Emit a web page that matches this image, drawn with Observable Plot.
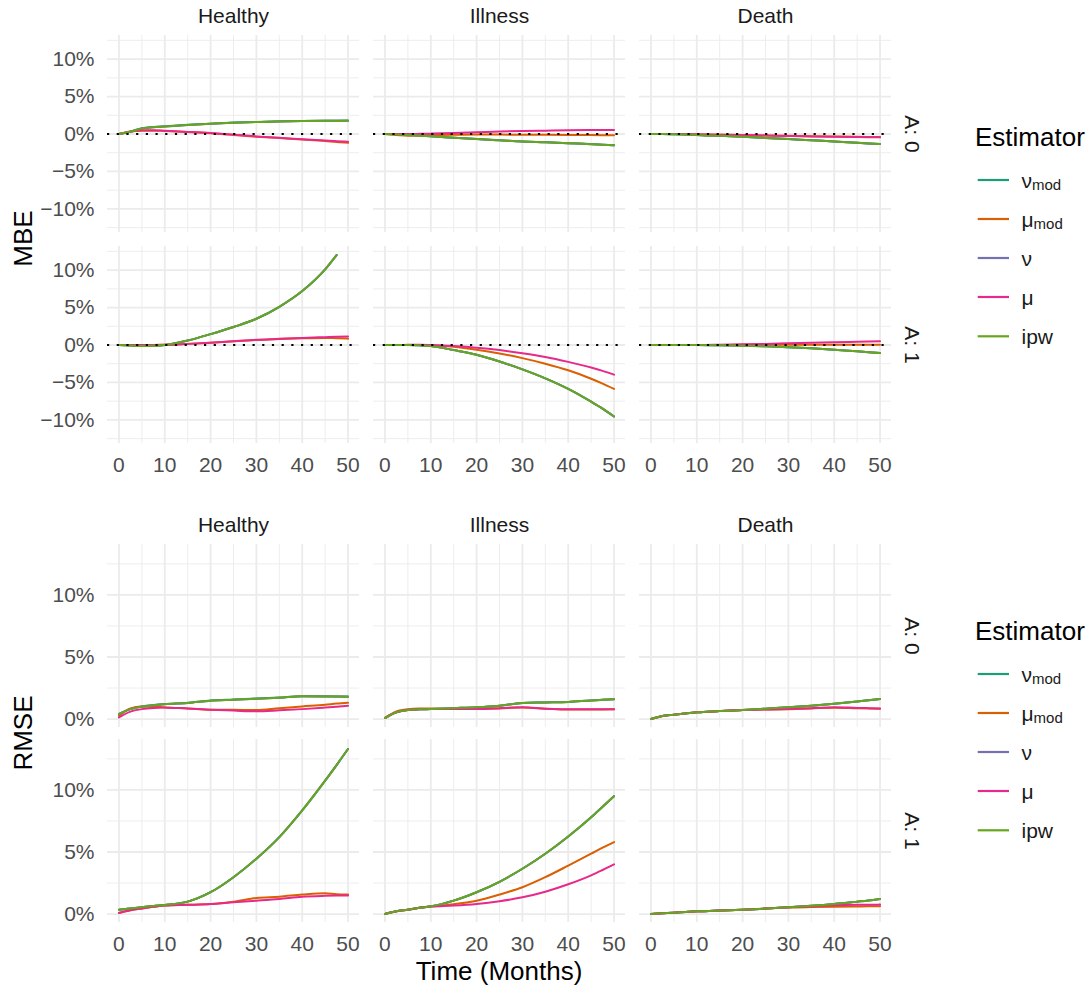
<!DOCTYPE html>
<html><head><meta charset="utf-8">
<script src="https://cdn.jsdelivr.net/npm/d3@7"></script>
<script src="https://cdn.jsdelivr.net/npm/@observablehq/plot@0.6"></script>
<style>
body{margin:0;background:#fff;}
#wrap{position:relative;width:1091px;height:991px;overflow:hidden;background:#fff;font-family:"Liberation Sans",Arial,sans-serif;}
#wrap > svg{position:absolute;left:0;}
</style></head><body><div id="wrap"></div>
<script>
// ---------- data ----------
const time = [0, 2.5, 5, 7.5, 10, 15, 20, 25, 30, 35, 40, 45, 47.5, 50];
const states = ["Healthy", "Illness", "Death"];
const groups = ["A: 0", "A: 1"];
const estimators = ["nu_mod", "mu_mod", "nu", "mu", "ipw"];
const estimatorColors = ["#1B9E77", "#D95F02", "#7570B3", "#E7298A", "#66A61E"];
const legendBase = ["ν", "μ", "ν", "μ", "ipw"];
const legendSub = ["mod", "mod", "", "", ""];
const xTicks = [0, 10, 20, 30, 40, 50];
const xMinor = [5, 15, 25, 35, 45];
const mbeTicks = [-10, -5, 0, 5, 10];
const mbeMinor = [-12.5, -7.5, -2.5, 2.5, 7.5, 12.5];
const rmseTicks = [0, 5, 10];
const rmseMinor = [2.5, 7.5, 12.5];

// MBE (%)
const mbe_Healthy_A0 = {
  nu_mod: [0, 0.32, 0.78, 0.92, 1.02, 1.22, 1.38, 1.52, 1.61, 1.69, 1.74, 1.77, 1.78, 1.79],
  mu_mod: [0, 0.35, 0.45, 0.45, 0.4, 0.26, 0.1, -0.12, -0.36, -0.55, -0.75, -0.95, -1.08, -1.18],
  nu:     [0, 0.3, 0.75, 0.9, 1.0, 1.2, 1.36, 1.5, 1.6, 1.68, 1.73, 1.76, 1.77, 1.78],
  mu:     [0, 0.3, 0.5, 0.5, 0.42, 0.28, 0.12, -0.1, -0.32, -0.5, -0.7, -0.88, -0.96, -1.04],
  ipw:    [0, 0.3, 0.75, 0.9, 1.0, 1.2, 1.36, 1.5, 1.6, 1.68, 1.73, 1.76, 1.77, 1.78]
};
const mbe_Illness_A0 = {
  nu_mod: [0, -0.05, -0.12, -0.21, -0.3, -0.49, -0.67, -0.83, -0.99, -1.1, -1.22, -1.35, -1.42, -1.49],
  mu_mod: [0, -0.12, -0.22, -0.2, -0.15, -0.1, -0.08, -0.08, -0.1, -0.1, -0.12, -0.14, -0.16, -0.18],
  nu:     [0, -0.05, -0.12, -0.22, -0.3, -0.5, -0.68, -0.84, -1.0, -1.1, -1.22, -1.36, -1.42, -1.5],
  mu:     [0, 0, 0, 0.02, 0.05, 0.12, 0.22, 0.33, 0.4, 0.44, 0.5, 0.52, 0.53, 0.54],
  ipw:    [0, -0.05, -0.12, -0.22, -0.3, -0.5, -0.68, -0.84, -1.0, -1.1, -1.22, -1.36, -1.42, -1.5]
};
const mbe_Death_A0 = {
  nu_mod: [0, 0, -0.03, -0.08, -0.14, -0.25, -0.36, -0.52, -0.68, -0.84, -1.0, -1.18, -1.27, -1.35],
  mu_mod: [0, 0, 0, -0.02, -0.04, -0.09, -0.14, -0.19, -0.25, -0.3, -0.34, -0.38, -0.39, -0.4],
  nu:     [0, 0, -0.03, -0.08, -0.14, -0.25, -0.36, -0.52, -0.68, -0.84, -1.0, -1.18, -1.27, -1.35],
  mu:     [0, 0, 0, -0.02, -0.05, -0.1, -0.15, -0.2, -0.27, -0.32, -0.37, -0.41, -0.43, -0.45],
  ipw:    [0, 0, -0.03, -0.08, -0.14, -0.25, -0.36, -0.52, -0.68, -0.84, -1.0, -1.18, -1.27, -1.35]
};
const mbe_Healthy_A1 = {
  nu_mod: [0, -0.08, -0.14, -0.1, 0, 0.6, 1.45, 2.4, 3.5, 5.1, 7.2, 10.1, 12.0, null],
  mu_mod: [0, 0, 0, 0, 0.02, 0.15, 0.3, 0.5, 0.68, 0.8, 0.9, 0.95, 0.9, 0.85],
  nu:     [0, -0.08, -0.14, -0.1, 0, 0.6, 1.45, 2.4, 3.5, 5.1, 7.2, 10.1, 12.0, null],
  mu:     [0, 0, 0, 0, 0.02, 0.15, 0.3, 0.5, 0.7, 0.82, 0.95, 1.05, 1.1, 1.12],
  ipw:    [0, -0.08, -0.14, -0.1, 0, 0.6, 1.45, 2.4, 3.5, 5.1, 7.2, 10.1, 12.0, null]
};
const mbe_Illness_A1 = {
  nu_mod: [0, 0, 0, -0.05, -0.14, -0.68, -1.3, -2.2, -3.25, -4.45, -5.86, -7.57, -8.5, -9.55],
  mu_mod: [0, 0, 0, 0, -0.02, -0.22, -0.62, -1.13, -1.75, -2.5, -3.38, -4.5, -5.15, -5.86],
  nu:     [0, 0, 0, -0.05, -0.14, -0.68, -1.3, -2.2, -3.25, -4.45, -5.86, -7.57, -8.5, -9.55],
  mu:     [0, 0, 0.02, 0.03, 0, -0.14, -0.36, -0.68, -1.1, -1.6, -2.25, -3.0, -3.45, -3.96],
  ipw:    [0, 0, 0, -0.05, -0.14, -0.68, -1.3, -2.2, -3.25, -4.45, -5.86, -7.57, -8.5, -9.55]
};
const mbe_Death_A1 = {
  nu_mod: [0, 0, 0, 0, 0, -0.03, -0.1, -0.18, -0.3, -0.45, -0.63, -0.85, -0.96, -1.08],
  mu_mod: [0, 0, 0, 0, 0, 0.01, 0.02, 0.02, 0.03, 0.03, 0.03, 0.03, 0.03, 0.03],
  nu:     [0, 0, 0, 0, 0, -0.03, -0.1, -0.18, -0.3, -0.45, -0.63, -0.85, -0.96, -1.08],
  mu:     [0, 0, 0, 0, 0, 0.04, 0.1, 0.15, 0.22, 0.29, 0.36, 0.43, 0.47, 0.5],
  ipw:    [0, 0, 0, 0, 0, -0.03, -0.1, -0.18, -0.3, -0.45, -0.63, -0.85, -0.96, -1.08]
};

// RMSE (%)
const rmse_Healthy_A0 = {
  nu_mod: [0.42, 0.82, 1.02, 1.13, 1.21, 1.31, 1.49, 1.57, 1.65, 1.73, 1.84, 1.83, 1.82, 1.81],
  mu_mod: [0.27, 0.85, 1.02, 1.0, 0.94, 0.85, 0.75, 0.74, 0.73, 0.88, 1.02, 1.15, 1.25, 1.32],
  nu:     [0.4, 0.8, 1.0, 1.12, 1.2, 1.3, 1.48, 1.56, 1.64, 1.72, 1.83, 1.82, 1.81, 1.8],
  mu:     [0.13, 0.6, 0.8, 0.9, 0.94, 0.85, 0.75, 0.68, 0.62, 0.7, 0.8, 0.93, 1.0, 1.08],
  ipw:    [0.4, 0.8, 1.0, 1.12, 1.2, 1.3, 1.48, 1.56, 1.64, 1.72, 1.83, 1.82, 1.81, 1.8]
};
const rmse_Illness_A0 = {
  nu_mod: [0.08, 0.55, 0.73, 0.78, 0.81, 0.88, 0.95, 1.08, 1.3, 1.34, 1.38, 1.5, 1.55, 1.6],
  mu_mod: [0.1, 0.62, 0.8, 0.85, 0.85, 0.82, 0.82, 0.86, 0.93, 0.84, 0.76, 0.76, 0.77, 0.78],
  nu:     [0.08, 0.55, 0.73, 0.78, 0.81, 0.88, 0.95, 1.08, 1.3, 1.34, 1.38, 1.5, 1.55, 1.6],
  mu:     [0.08, 0.55, 0.73, 0.78, 0.81, 0.81, 0.81, 0.88, 0.95, 0.84, 0.78, 0.78, 0.78, 0.78],
  ipw:    [0.08, 0.55, 0.73, 0.78, 0.81, 0.88, 0.95, 1.08, 1.3, 1.34, 1.38, 1.5, 1.55, 1.6]
};
const rmse_Death_A0 = {
  nu_mod: [0, 0.25, 0.35, 0.45, 0.54, 0.64, 0.73, 0.84, 0.95, 1.08, 1.24, 1.42, 1.52, 1.62],
  mu_mod: [0, 0.25, 0.35, 0.45, 0.54, 0.64, 0.73, 0.77, 0.8, 0.86, 0.92, 0.88, 0.86, 0.84],
  nu:     [0, 0.25, 0.35, 0.45, 0.54, 0.64, 0.73, 0.84, 0.95, 1.08, 1.24, 1.42, 1.52, 1.62],
  mu:     [0, 0.25, 0.35, 0.45, 0.54, 0.64, 0.73, 0.77, 0.81, 0.88, 0.95, 0.9, 0.88, 0.86],
  ipw:    [0, 0.25, 0.35, 0.45, 0.54, 0.64, 0.73, 0.84, 0.95, 1.08, 1.24, 1.42, 1.52, 1.62]
};
const rmse_Healthy_A1 = {
  nu_mod: [0.35, 0.45, 0.55, 0.65, 0.73, 1.0, 1.76, 2.97, 4.46, 6.2, 8.35, 10.75, 12.0, 13.3],
  mu_mod: [0.08, 0.3, 0.45, 0.58, 0.68, 0.74, 0.81, 1.0, 1.3, 1.4, 1.57, 1.68, 1.6, 1.57],
  nu:     [0.35, 0.45, 0.55, 0.65, 0.73, 1.0, 1.76, 2.97, 4.46, 6.2, 8.35, 10.75, 12.0, 13.3],
  mu:     [0.08, 0.3, 0.45, 0.58, 0.68, 0.74, 0.81, 0.95, 1.08, 1.22, 1.4, 1.47, 1.49, 1.5],
  ipw:    [0.35, 0.45, 0.55, 0.65, 0.73, 1.0, 1.76, 2.97, 4.46, 6.2, 8.35, 10.75, 12.0, 13.3]
};
const rmse_Illness_A1 = {
  nu_mod: [0, 0.22, 0.35, 0.5, 0.62, 1.08, 1.76, 2.6, 3.65, 4.86, 6.25, 7.8, 8.65, 9.5],
  mu_mod: [0, 0.22, 0.35, 0.5, 0.6, 0.8, 1.08, 1.57, 2.16, 2.97, 3.9, 4.86, 5.35, 5.8],
  nu:     [0, 0.22, 0.35, 0.5, 0.62, 1.08, 1.76, 2.6, 3.65, 4.86, 6.25, 7.8, 8.65, 9.5],
  mu:     [0, 0.22, 0.35, 0.5, 0.6, 0.68, 0.81, 1.03, 1.35, 1.8, 2.4, 3.12, 3.55, 4.0],
  ipw:    [0, 0.22, 0.35, 0.5, 0.62, 1.08, 1.76, 2.6, 3.65, 4.86, 6.25, 7.8, 8.65, 9.5]
};
const rmse_Death_A1 = {
  nu_mod: [0, 0.06, 0.11, 0.17, 0.22, 0.29, 0.35, 0.44, 0.54, 0.66, 0.81, 1.0, 1.1, 1.22],
  mu_mod: [0, 0.06, 0.11, 0.17, 0.22, 0.29, 0.35, 0.44, 0.52, 0.56, 0.59, 0.61, 0.62, 0.62],
  nu:     [0, 0.06, 0.11, 0.17, 0.22, 0.29, 0.35, 0.44, 0.54, 0.66, 0.81, 1.0, 1.1, 1.22],
  mu:     [0, 0.06, 0.11, 0.17, 0.22, 0.29, 0.35, 0.44, 0.54, 0.62, 0.7, 0.74, 0.75, 0.76],
  ipw:    [0, 0.06, 0.11, 0.17, 0.22, 0.29, 0.35, 0.44, 0.54, 0.66, 0.81, 1.0, 1.1, 1.22]
};

const mbePanels = [
  ["Healthy", "A: 0", mbe_Healthy_A0], ["Illness", "A: 0", mbe_Illness_A0], ["Death", "A: 0", mbe_Death_A0],
  ["Healthy", "A: 1", mbe_Healthy_A1], ["Illness", "A: 1", mbe_Illness_A1], ["Death", "A: 1", mbe_Death_A1]
];
const rmsePanels = [
  ["Healthy", "A: 0", rmse_Healthy_A0], ["Illness", "A: 0", rmse_Illness_A0], ["Death", "A: 0", rmse_Death_A0],
  ["Healthy", "A: 1", rmse_Healthy_A1], ["Illness", "A: 1", rmse_Illness_A1], ["Death", "A: 1", rmse_Death_A1]
];

// ---------- build ----------
function toRows(panels) {
  const out = [];
  for (const est of estimators) {
    for (const [state, A, obj] of panels) {
      obj[est].forEach((v, i) => out.push({t: time[i], v: v == null ? NaN : v, est, state, A}));
    }
  }
  return out;
}
const pct = d => (d < 0 ? "\u2212" : "") + Math.abs(d) + "%";
const FONT = '"Liberation Sans", Arial, Helvetica, sans-serif';
const GRID = "#EBEBEB";

function facetChart({data, yDomain, yTicks, yMinor, fyPad, height, marginBottom, hline}) {
  return Plot.plot({
    width: 940, height,
    marginLeft: 106.2, marginRight: 48.5, marginTop: 34, marginBottom,
    style: {fontFamily: FONT, fontSize: "21px", color: "#4D4D4D", background: "white", overflow: "visible"},
    x: {domain: [-2.5, 52.5]},
    y: {domain: yDomain},
    fx: {domain: states, paddingInner: 0.052, paddingOuter: 0, axis: null},
    fy: {domain: groups, paddingInner: fyPad, paddingOuter: 0, axis: null},
    color: {domain: estimators, range: estimatorColors},
    marks: [
      Plot.gridX({ticks: xMinor, stroke: GRID, strokeOpacity: 1, strokeWidth: 0.9}),
      Plot.gridY({ticks: yMinor, stroke: GRID, strokeOpacity: 1, strokeWidth: 0.9}),
      Plot.gridX({ticks: xTicks, stroke: GRID, strokeOpacity: 1, strokeWidth: 1.8}),
      Plot.gridY({ticks: yTicks, stroke: GRID, strokeOpacity: 1, strokeWidth: 1.8}),
      Plot.axisX({ticks: xTicks, tickSize: 0, tickPadding: 13.5, label: null, fontSize: 21, fill: "#4D4D4D"}),
      Plot.axisY({ticks: yTicks, tickSize: 0, tickPadding: 13, label: null, tickFormat: pct, fontSize: 21, fill: "#4D4D4D"}),
      Plot.line(data, {x: "t", y: "v", z: "est", stroke: "est", fx: "state", fy: "A",
        strokeWidth: 2, curve: "monotone-x", strokeLinejoin: "round"}),
      hline ? Plot.ruleY([0], {stroke: "black", strokeWidth: 2.2, strokeDasharray: "2.2,7.5"}) : null,
      Plot.text(states, {fx: d => d, fy: () => "A: 0", text: d => d, frameAnchor: "top",
        lineAnchor: "middle", textAnchor: "middle", dy: -19, fontSize: 21, fill: "#1A1A1A"}),
      Plot.text(groups, {fy: d => d, fx: () => "Death", text: d => d, frameAnchor: "right",
        textAnchor: "middle", lineAnchor: "middle", rotate: 90, dx: 20, fontSize: 21, fill: "#1A1A1A"})
    ]
  });
}

const wrap = document.getElementById("wrap");
const chart1 = facetChart({data: toRows(mbePanels), yDomain: [-13.15, 13.15], yTicks: mbeTicks, yMinor: mbeMinor,
  fyPad: 0.0675, height: 475, marginBottom: 31.7, hline: true});
chart1.style.top = "0px";
wrap.appendChild(chart1);
const chart2 = facetChart({data: toRows(rmsePanels), yDomain: [-0.68, 14.06], yTicks: rmseTicks, yMinor: rmseMinor,
  fyPad: 0.0631, height: 481, marginBottom: 69.3, hline: false});
chart2.style.top = "510px";
wrap.appendChild(chart2);

// overlay: axis titles and legends
const ov = d3.create("svg").attr("width", 1091).attr("height", 991)
  .style("position", "absolute").style("top", "0px").style("left", "0px")
  .style("font-family", FONT).style("pointer-events", "none");
ov.append("text").attr("transform", "translate(31.5,238.6) rotate(-90)").attr("text-anchor", "middle")
  .attr("font-size", 26).attr("fill", "black").text("MBE");
ov.append("text").attr("transform", "translate(31.5,733) rotate(-90)").attr("text-anchor", "middle")
  .attr("font-size", 26).attr("fill", "black").text("RMSE");
ov.append("text").attr("x", 499).attr("y", 979.5).attr("text-anchor", "middle")
  .attr("font-size", 26).attr("fill", "black").text("Time (Months)");

function legend(offset) {
  const g = ov.append("g").attr("transform", `translate(0,${offset})`);
  g.append("text").attr("x", 975).attr("y", 145.7).attr("font-size", 26).attr("fill", "black").text("Estimator");
  const ys = [180, 219, 258, 297, 336.3];
  estimators.forEach((e, i) => {
    g.append("line").attr("x1", 977.7).attr("x2", 1009).attr("y1", ys[i]).attr("y2", ys[i])
      .attr("stroke", estimatorColors[i]).attr("stroke-width", 2.2);
    const t = g.append("text").attr("x", 1021.5).attr("y", ys[i] + 7.5).attr("font-size", 21).attr("fill", "#1A1A1A");
    t.append("tspan").text(legendBase[i]);
    if (legendSub[i]) t.append("tspan").attr("dy", 2.5).attr("font-size", 15).text(legendSub[i]);
  });
}
legend(0);
legend(494);
wrap.appendChild(ov.node());
</script>
</body></html>
